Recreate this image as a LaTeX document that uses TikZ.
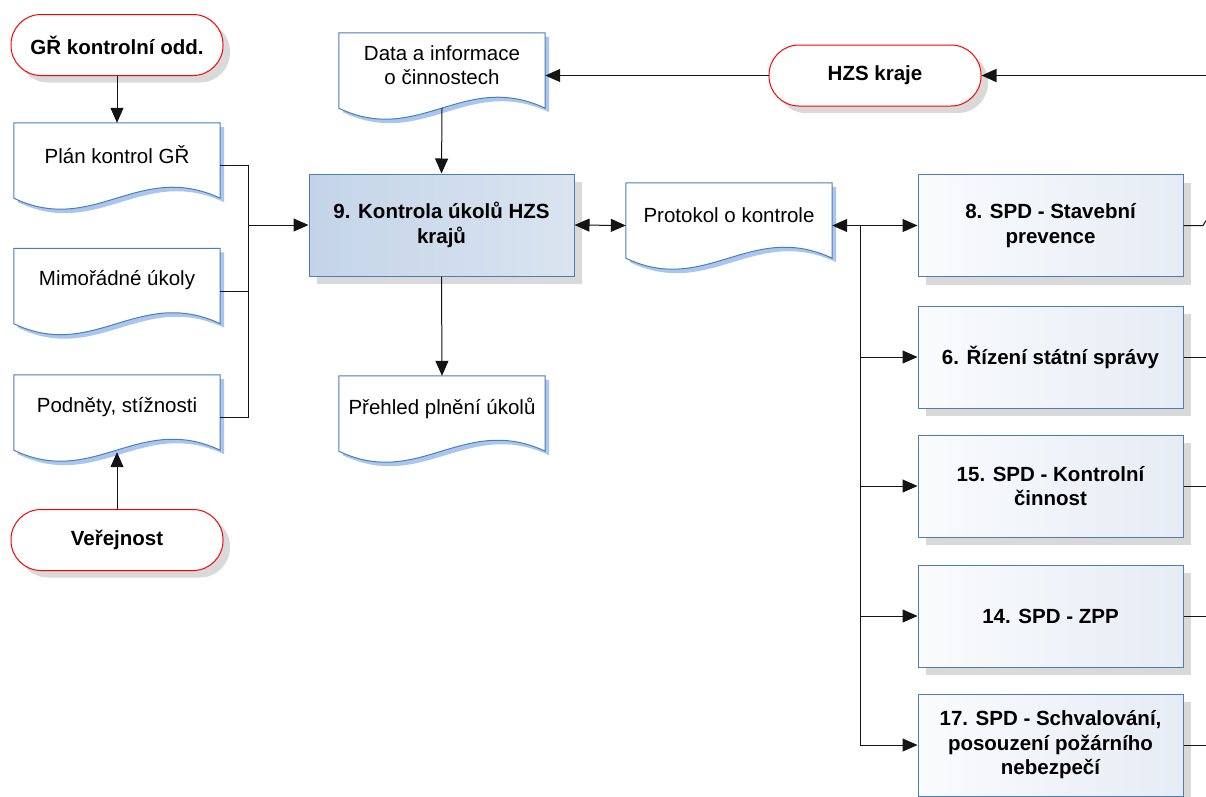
\documentclass[tikz,border=0pt]{standalone}
\usepackage{fontspec}
\setmainfont{Liberation Sans}
\usetikzlibrary{calc,arrows.meta,shadows}
\definecolor{docblue}{RGB}{74,126,187}
\definecolor{docsh}{RGB}{170,198,236}
\definecolor{shgray}{RGB}{217,217,217}
\definecolor{bnl}{RGB}{196,212,232}
\definecolor{bnr}{RGB}{218,228,240}
\definecolor{bxl}{RGB}{250,251,253}
\definecolor{bxr}{RGB}{230,236,245}
\definecolor{lineg}{RGB}{20,20,20}

\newcommand\docfill[4]{\path[#2] ($(#1.north west)+(#3,#4)$) -- ($(#1.north east)+(#3,#4)$) -- ($(#1.south east)+(#3,#4-10)$) .. controls ($(#1.south west)+(#3+125,#4-48)$) and ($(#1.south west)+(#3+80,#4+28)$) .. ($(#1.south west)+(#3,#4-10)$) -- cycle;}
\newcommand\mkdoc[4]{%
  \node[docarea] (#1) at (#2,#3) {};
  \docfill{#1}{fill=docsh}{4}{4}
  \docfill{#1}{fill=white,draw=docblue,line width=1pt}{0}{0}
  \node[doctext] (#1-t) at ($(#1.center)+(0,-10.5)$) {#4};
}

\tikzset{
  base/.style={font=\fontsize{20.5}{24.5}\selectfont, align=center, inner sep=0pt},
  bold/.style={font=\fontsize{20.5}{24.5}\selectfont\bfseries, align=center, inner sep=0pt},
  term/.style={bold, draw=red, line width=1pt, fill=white, rounded corners=30pt,
    minimum width=212, minimum height=61,
    drop shadow={shadow xshift=7pt, shadow yshift=-7pt, fill=shgray, opacity=1}},
  proc/.style={bold, draw=docblue, line width=1pt, minimum width=265, minimum height=102,
    left color=bxl, right color=bxr,
    drop shadow={shadow xshift=8pt, shadow yshift=-8pt, fill=shgray, opacity=1}},
  mainproc/.style={proc, left color=bnl, right color=bnr},
  docarea/.style={inner sep=0pt, minimum width=206, minimum height=85},
  doctext/.style={base},
  conn/.style={draw=lineg, line width=1pt},
  arr/.style={conn, -{Triangle[length=15pt,width=13pt]}},
  darr/.style={conn, {Triangle[length=15pt,width=13pt]}-{Triangle[length=15pt,width=13pt]}},
}

\begin{document}
\begin{tikzpicture}[x=1pt,y=-1pt]
\clip (0,0) rectangle (1206,796);
\fill[white] (0,0) rectangle (1206,796);

% terminals
\node[term] (gr) at (117,45) {GŘ kontrolní odd.};
\node[term] (ver) at (117,540) {Veřejnost};
\node[term] (hzs) at (875,75.5) {HZS kraje};

% documents
\mkdoc{plan}{117}{165.5}{Plán kontrol GŘ}
\mkdoc{mimo}{117}{291}{Mimořádné úkoly}
\mkdoc{podn}{117}{417.5}{Podněty, stížnosti}
\mkdoc{data}{442}{75.5}{Data a informace\\o činnostech}
\mkdoc{preh}{442}{418.5}{Přehled plnění úkolů}
\mkdoc{prot}{729}{225.5}{Protokol o kontrole}

% processes
\node[mainproc] (b9) at (441.5,225) {9. Kontrola úkolů HZS\\krajů};
\node[proc] (b8) at (1050.5,225.5) {8. SPD - Stavební\\prevence};
\node[proc] (b6) at (1050.5,357) {6. Řízení státní správy};
\node[proc] (b15) at (1050.5,486) {15. SPD - Kontrolní\\činnost};
\node[proc] (b14) at (1050.5,616) {14. SPD - ZPP};
\node[proc] (b17) at (1050.5,745) {17. SPD - Schvalování,\\posouzení požárního\\nebezpečí};

% free ends and junctions
\coordinate (lbus) at (248,225);
\coordinate (jn) at (860,225.5);
\coordinate (edgeH) at (1206,75.5);
\coordinate (e8) at (1203,225.5);

% connectors
\draw[arr] (gr.south) -- (plan.north);
\draw[arr] (ver.north) -- ($(podn.south)+(0,-8)$);
\draw[conn] (plan.east) -| (lbus);
\draw[conn] (podn.east) -| (lbus);
\draw[conn] (mimo.east) -- (mimo.east -| lbus);
\draw[arr] (lbus) -- (b9.west);
\draw[arr] ($(data.south)+(0,-10)$) -- (b9.north);
\draw[arr] (b9.south) -- (preh.north);
\draw[arr] (hzs.west) -- (data.east);
\draw[arr, line width=1.6pt] (edgeH) -- (hzs.east);
\draw[darr] (b9.east) -- (prot.west);
\draw[arr] (jn) -- (prot.east);
\draw[arr] (jn) -- (b8.west);
\draw[arr] (jn) |- (b6.west);
\draw[arr] (jn) |- (b15.west);
\draw[arr] (jn) |- (b14.west);
\draw[arr] (jn) |- (b17.west);

% lines leaving to the right edge
\draw[conn] (b8.east) -- (e8) -- ++(3,-5);
\draw[conn] (b6.east) -- (b6.east -| edgeH);
\draw[conn] (b15.east) -- (b15.east -| edgeH);
\draw[conn] (b14.east) -- (b14.east -| edgeH);
\draw[conn] (b17.east) -- (b17.east -| edgeH);
\end{tikzpicture}
\end{document}
